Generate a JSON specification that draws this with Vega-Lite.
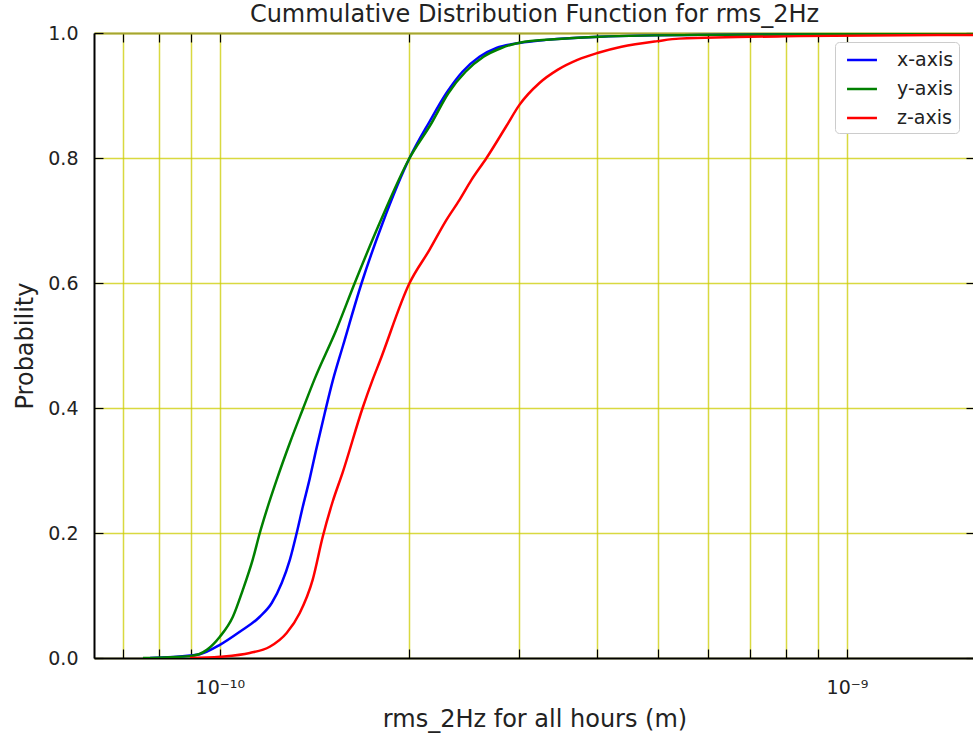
{
  "$schema": "https://vega.github.io/schema/vega-lite/v6.json",
  "width": 881,
  "height": 625,
  "autosize": {"type": "none"},
  "padding": {"left": 94, "top": 33, "right": 0, "bottom": 80},
  "background": "white",
  "config": {"view": {"stroke": null}, "font": "DejaVu Sans"},
  "title": {"text": "Cummulative Distribution Function for rms_2Hz", "fontSize": 24, "fontWeight": "normal", "font": "DejaVu Sans", "color": "#222222", "anchor": "middle", "offset": -3},
  "data": {"values": [
    {"axis": "x-axis", "rms": 0.774e-10, "p": 0},
    {"axis": "x-axis", "rms": 0.896e-10, "p": 0.004},
    {"axis": "x-axis", "rms": 0.929e-10, "p": 0.006},
    {"axis": "x-axis", "rms": 1.0e-10, "p": 0.021},
    {"axis": "x-axis", "rms": 1.076e-10, "p": 0.042},
    {"axis": "x-axis", "rms": 1.158e-10, "p": 0.066},
    {"axis": "x-axis", "rms": 1.210e-10, "p": 0.088},
    {"axis": "x-axis", "rms": 1.255e-10, "p": 0.12},
    {"axis": "x-axis", "rms": 1.293e-10, "p": 0.157},
    {"axis": "x-axis", "rms": 1.326e-10, "p": 0.2},
    {"axis": "x-axis", "rms": 1.356e-10, "p": 0.242},
    {"axis": "x-axis", "rms": 1.391e-10, "p": 0.287},
    {"axis": "x-axis", "rms": 1.427e-10, "p": 0.337},
    {"axis": "x-axis", "rms": 1.470e-10, "p": 0.392},
    {"axis": "x-axis", "rms": 1.513e-10, "p": 0.443},
    {"axis": "x-axis", "rms": 1.572e-10, "p": 0.5},
    {"axis": "x-axis", "rms": 1.683e-10, "p": 0.6},
    {"axis": "x-axis", "rms": 1.818e-10, "p": 0.696},
    {"axis": "x-axis", "rms": 2.007e-10, "p": 0.8},
    {"axis": "x-axis", "rms": 2.159e-10, "p": 0.858},
    {"axis": "x-axis", "rms": 2.298e-10, "p": 0.904},
    {"axis": "x-axis", "rms": 2.437e-10, "p": 0.938},
    {"axis": "x-axis", "rms": 2.594e-10, "p": 0.962},
    {"axis": "x-axis", "rms": 2.761e-10, "p": 0.976},
    {"axis": "x-axis", "rms": 3.004e-10, "p": 0.984},
    {"axis": "x-axis", "rms": 3.316e-10, "p": 0.989},
    {"axis": "x-axis", "rms": 4.029e-10, "p": 0.994},
    {"axis": "x-axis", "rms": 5.811e-10, "p": 0.997},
    {"axis": "x-axis", "rms": 16e-10, "p": 0.999},
    {"axis": "y-axis", "rms": 0.754e-10, "p": 0},
    {"axis": "y-axis", "rms": 0.896e-10, "p": 0.003},
    {"axis": "y-axis", "rms": 0.9535e-10, "p": 0.013},
    {"axis": "y-axis", "rms": 1.0e-10, "p": 0.034},
    {"axis": "y-axis", "rms": 1.049e-10, "p": 0.066},
    {"axis": "y-axis", "rms": 1.088e-10, "p": 0.109},
    {"axis": "y-axis", "rms": 1.128e-10, "p": 0.157},
    {"axis": "y-axis", "rms": 1.158e-10, "p": 0.2},
    {"axis": "y-axis", "rms": 1.188e-10, "p": 0.237},
    {"axis": "y-axis", "rms": 1.232e-10, "p": 0.285},
    {"axis": "y-axis", "rms": 1.293e-10, "p": 0.344},
    {"axis": "y-axis", "rms": 1.356e-10, "p": 0.398},
    {"axis": "y-axis", "rms": 1.417e-10, "p": 0.447},
    {"axis": "y-axis", "rms": 1.532e-10, "p": 0.524},
    {"axis": "y-axis", "rms": 1.641e-10, "p": 0.6},
    {"axis": "y-axis", "rms": 1.798e-10, "p": 0.696},
    {"axis": "y-axis", "rms": 2.007e-10, "p": 0.8},
    {"axis": "y-axis", "rms": 2.176e-10, "p": 0.856},
    {"axis": "y-axis", "rms": 2.315e-10, "p": 0.904},
    {"axis": "y-axis", "rms": 2.465e-10, "p": 0.938},
    {"axis": "y-axis", "rms": 2.633e-10, "p": 0.962},
    {"axis": "y-axis", "rms": 2.812e-10, "p": 0.976},
    {"axis": "y-axis", "rms": 3.06e-10, "p": 0.986},
    {"axis": "y-axis", "rms": 3.415e-10, "p": 0.99},
    {"axis": "y-axis", "rms": 4.029e-10, "p": 0.994},
    {"axis": "y-axis", "rms": 5.811e-10, "p": 0.997},
    {"axis": "y-axis", "rms": 16e-10, "p": 0.999},
    {"axis": "z-axis", "rms": 0.896e-10, "p": 0},
    {"axis": "z-axis", "rms": 1.0e-10, "p": 0.002},
    {"axis": "z-axis", "rms": 1.116e-10, "p": 0.008},
    {"axis": "z-axis", "rms": 1.201e-10, "p": 0.018},
    {"axis": "z-axis", "rms": 1.278e-10, "p": 0.04},
    {"axis": "z-axis", "rms": 1.341e-10, "p": 0.072},
    {"axis": "z-axis", "rms": 1.406e-10, "p": 0.125},
    {"axis": "z-axis", "rms": 1.459e-10, "p": 0.194},
    {"axis": "z-axis", "rms": 1.513e-10, "p": 0.25},
    {"axis": "z-axis", "rms": 1.570e-10, "p": 0.297},
    {"axis": "z-axis", "rms": 1.689e-10, "p": 0.4},
    {"axis": "z-axis", "rms": 1.752e-10, "p": 0.445},
    {"axis": "z-axis", "rms": 1.798e-10, "p": 0.474},
    {"axis": "z-axis", "rms": 2.007e-10, "p": 0.6},
    {"axis": "z-axis", "rms": 2.159e-10, "p": 0.653},
    {"axis": "z-axis", "rms": 2.298e-10, "p": 0.701},
    {"axis": "z-axis", "rms": 2.411e-10, "p": 0.733},
    {"axis": "z-axis", "rms": 2.519e-10, "p": 0.765},
    {"axis": "z-axis", "rms": 2.662e-10, "p": 0.8},
    {"axis": "z-axis", "rms": 2.859e-10, "p": 0.85},
    {"axis": "z-axis", "rms": 3.004e-10, "p": 0.885},
    {"axis": "z-axis", "rms": 3.233e-10, "p": 0.92},
    {"axis": "z-axis", "rms": 3.455e-10, "p": 0.941},
    {"axis": "z-axis", "rms": 3.717e-10, "p": 0.957},
    {"axis": "z-axis", "rms": 4.0e-10, "p": 0.968},
    {"axis": "z-axis", "rms": 4.37e-10, "p": 0.978},
    {"axis": "z-axis", "rms": 4.984e-10, "p": 0.987},
    {"axis": "z-axis", "rms": 5.4e-10, "p": 0.991},
    {"axis": "z-axis", "rms": 8.386e-10, "p": 0.995},
    {"axis": "z-axis", "rms": 16e-10, "p": 0.997}
  ]},
  "layer": [
    {
      "mark": {"type": "line", "strokeWidth": 2.5, "interpolate": "monotone", "clip": true},
      "encoding": {
        "x": {
          "field": "rms", "type": "quantitative",
          "scale": {"type": "log", "domain": [6.3e-11, 1.6e-9], "nice": false},
          "title": "rms_2Hz for all hours (m)",
          "axis": {
            "orient": "bottom",
            "values": [7e-11, 8e-11, 9e-11, 1e-10, 2e-10, 3e-10, 4e-10, 5e-10, 6e-10, 7e-10, 8e-10, 9e-10, 1e-9],
            "labelExpr": "abs(datum.value - 1e-10) < 1e-14 ? '10⁻¹⁰' : (abs(datum.value - 1e-9) < 1e-13 ? '10⁻⁹' : '')",
            "tickSize": -9, "tickColor": "#000000", "tickWidth": 1.2,
            "domainColor": "#000000", "domainWidth": 2,
            "grid": true, "gridColor": "#cccc00", "gridOpacity": 0.75, "gridWidth": 1.5,
            "labelFontSize": 19, "labelColor": "#222222", "labelPadding": 29, "labelFlush": false,
            "titleFontSize": 24, "titleFontWeight": "normal", "titleColor": "#222222", "titlePadding": 10
          }
        },
        "y": {
          "field": "p", "type": "quantitative",
          "scale": {"domain": [0, 1], "nice": false, "zero": false},
          "title": "Probability",
          "axis": {
            "orient": "left",
            "values": [0, 0.2, 0.4, 0.6, 0.8, 1.0],
            "format": ".1f",
            "tickSize": -9, "tickColor": "#000000", "tickWidth": 1.2,
            "domainColor": "#000000", "domainWidth": 2,
            "grid": true, "gridColor": "#cccc00", "gridOpacity": 0.75, "gridWidth": 1.5,
            "labelFontSize": 19, "labelColor": "#222222", "labelPadding": 25,
            "titleFontSize": 24, "titleFontWeight": "normal", "titleColor": "#222222", "titlePadding": 10
          }
        },
        "color": {
          "field": "axis", "type": "nominal",
          "scale": {"domain": ["x-axis", "y-axis", "z-axis"], "range": ["#0000ff", "#008000", "#ff0000"]},
          "legend": {
            "orient": "none", "legendX": 741, "legendY": 9, "title": null,
            "symbolType": "M-1.3,0H1.3", "symbolSize": 530, "symbolStrokeWidth": 2.5, "symbolOffset": 9,
            "labelFontSize": 19, "labelColor": "#222222", "labelOffset": 22,
            "rowPadding": 6, "padding": 5,
            "fillColor": "white", "strokeColor": "#cccccc", "cornerRadius": 4
          }
        }
      }
    },
    {
      "mark": {"type": "line", "opacity": 0},
      "encoding": {
        "x": {
          "field": "rms", "type": "quantitative",
          "axis": {
            "orient": "top", "title": null, "labels": false, "grid": false,
            "values": [7e-11, 8e-11, 9e-11, 1e-10, 2e-10, 3e-10, 4e-10, 5e-10, 6e-10, 7e-10, 8e-10, 9e-10, 1e-9],
            "tickSize": -9, "tickColor": "#000000", "tickWidth": 1.2,
            "domainColor": "#a5a530", "domainWidth": 2
          }
        },
        "y": {
          "field": "p", "type": "quantitative",
          "axis": {
            "orient": "right", "title": null, "labels": false, "grid": false,
            "values": [0, 0.2, 0.4, 0.6, 0.8, 1.0],
            "tickSize": -9, "tickColor": "#000000", "tickWidth": 1.2,
            "domainColor": "#000000", "domainWidth": 2
          }
        },
        "detail": {"field": "axis", "type": "nominal"}
      }
    }
  ],
  "resolve": {"axis": {"x": "independent", "y": "independent"}}
}
